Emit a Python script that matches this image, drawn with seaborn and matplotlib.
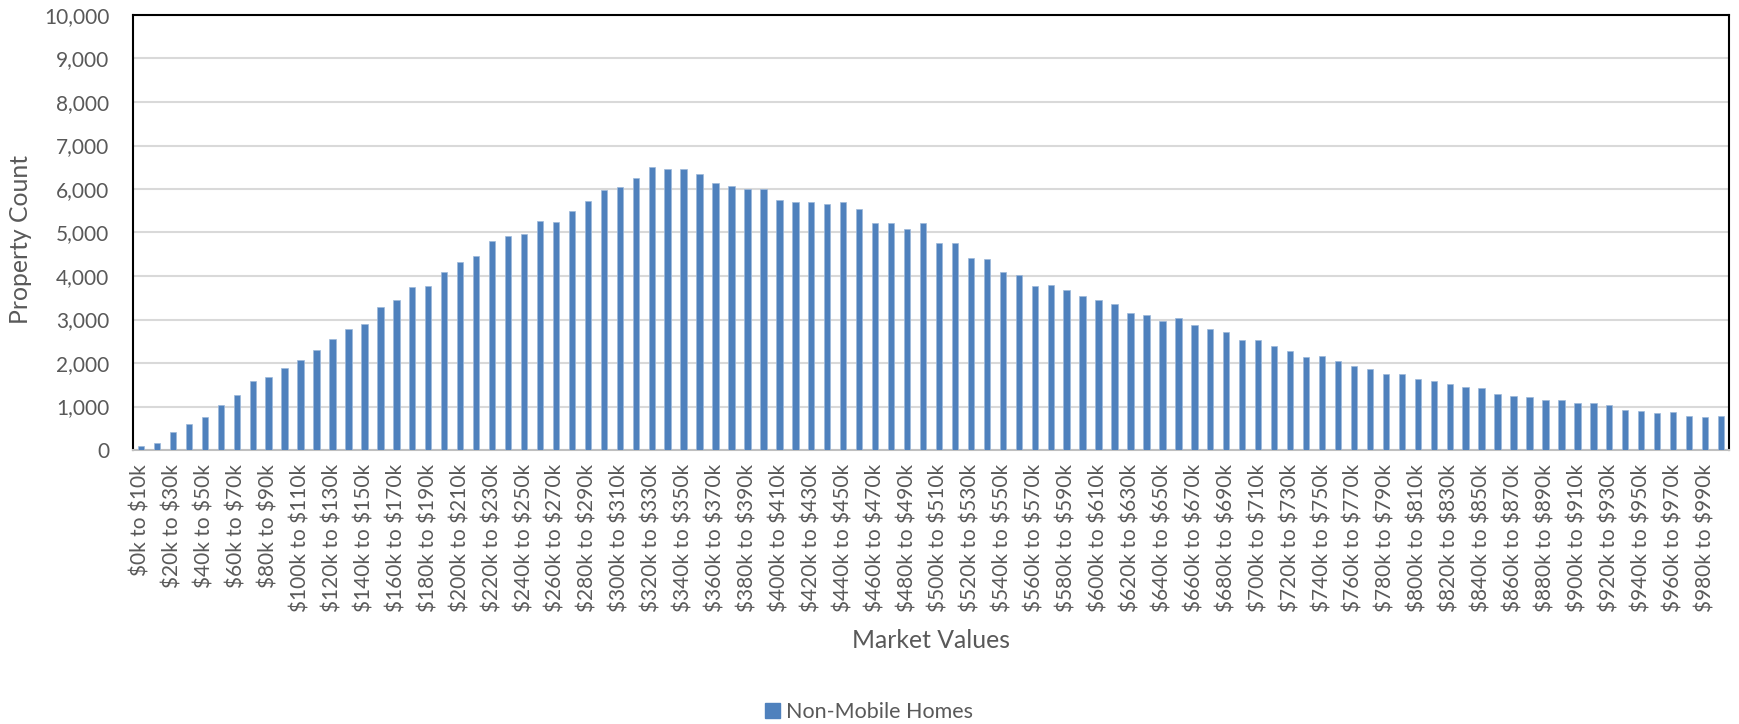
import matplotlib
matplotlib.use("Agg")
import matplotlib.pyplot as plt
import seaborn as sns
import pandas as pd
from matplotlib.patches import Patch

# ---- data ----
lower_k = list(range(0, 1000, 10))
categories = [f"${lo}k to ${lo + 10}k" for lo in lower_k]
counts = [
    100, 150, 420, 600, 763, 1038, 1275, 1580, 1672, 1878,
    2076, 2290, 2542, 2771, 2908, 3282, 3443, 3740, 3771, 4090,
    4330, 4460, 4810, 4930, 4960, 5270, 5250, 5500, 5720, 5970,
    6040, 6260, 6500, 6460, 6460, 6340, 6130, 6070, 6000, 5990,
    5740, 5700, 5710, 5650, 5700, 5535, 5225, 5220, 5080, 5220,
    4750, 4750, 4410, 4390, 4090, 4020, 3760, 3800, 3670, 3530,
    3450, 3360, 3160, 3110, 2970, 3030, 2870, 2790, 2720, 2540,
    2530, 2380, 2275, 2135, 2150, 2050, 1920, 1860, 1740, 1740,
    1640, 1580, 1520, 1440, 1430, 1290, 1240, 1220, 1150, 1150,
    1080, 1080, 1040, 920, 900, 860, 880, 780, 770, 790,
]
series_name = "Non-Mobile Homes"
y_ticks = list(range(0, 10001, 1000))

df = pd.DataFrame({"Market Values": categories, "Property Count": counts})

BAR = "#4f81bd"
TXT = "#595959"

sns.set_theme(style="white")
plt.rcParams["font.family"] = ["Lato", "DejaVu Sans"]
plt.rcParams["text.parse_math"] = False

fig = plt.figure(figsize=(17.4, 7.24), dpi=100)
ax = fig.add_axes([133 / 1740, 1 - 450 / 724, (1729 - 133) / 1740, (450 - 15) / 724])

sns.barplot(data=df, x="Market Values", y="Property Count", color=BAR,
            saturation=1, width=0.4, ax=ax, zorder=3,
            edgecolor="#9db8da", linewidth=0.5)

ax.set_ylim(0, 10000)
ax.set_xlim(-0.5, len(categories) - 0.5)
ax.set_yticks(y_ticks)
ax.set_yticklabels([f"{v:,}" for v in y_ticks])
ax.set_xticks(range(0, len(categories), 2))
ax.set_xticklabels(categories[::2], rotation=90)

ax.yaxis.grid(True, color="#d9d9d9", linewidth=1.5, zorder=0)
ax.xaxis.grid(False)
ax.set_axisbelow(True)

ax.tick_params(axis="y", length=0, pad=17, labelsize=15, labelcolor=TXT)
ax.tick_params(axis="x", length=0, pad=10, labelsize=15, labelcolor=TXT)

for side in ["top", "left", "right"]:
    ax.spines[side].set_color("black")
    ax.spines[side].set_linewidth(1.5)
ax.spines["bottom"].set_color("#bfbfbf")
ax.spines["bottom"].set_linewidth(1.5)

ax.set_xlabel("")
ax.set_ylabel("")
fig.text(21 / 1740, 1 - 239 / 724, "Property Count", rotation=90,
         ha="center", va="center", fontsize=17.8, color=TXT)
fig.text(931 / 1740, 1 - 641 / 724, "Market Values",
         ha="center", va="center", fontsize=17.8, color=TXT)

handle = Patch(facecolor=BAR, edgecolor=BAR, label=series_name)
fig.legend(handles=[handle], loc="center", bbox_to_anchor=(869 / 1740, 1 - 712 / 724),
           frameon=False, fontsize=15.5, labelcolor=TXT, handlelength=0.7,
           handleheight=0.7, handletextpad=0.3)

fig.savefig("out.png", dpi=100)
